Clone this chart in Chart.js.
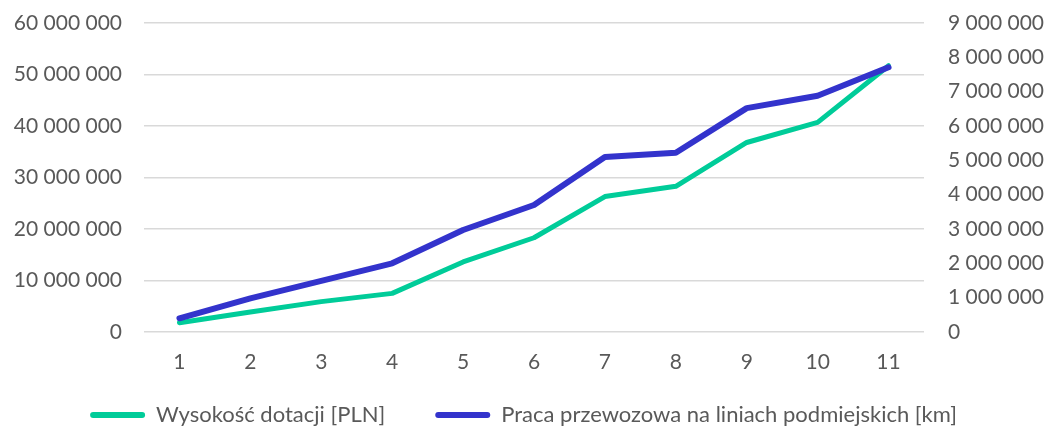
<!DOCTYPE html>
<html>
<head>
<meta charset="utf-8">
<script src="https://cdn.jsdelivr.net/npm/chart.js@4"></script>
<style>
  html, body { margin: 0; padding: 0; background: #fff; }
  #wrap { width: 1047px; height: 427px; }
</style>
</head>
<body>
<div id="wrap"><canvas id="chart" width="1047" height="427"></canvas></div>
<script>
// data
const labels = ['1', '2', '3', '4', '5', '6', '7', '8', '9', '10', '11'];
const dotacje = [1800000, 3900000, 5900000, 7500000, 13600000, 18300000, 26300000, 28300000, 36800000, 40700000, 51700000];
const praca = [400000, 980000, 1490000, 2000000, 2970000, 3700000, 5100000, 5220000, 6520000, 6880000, 7710000];

const green = '#00cc99';
const blue = '#3333cc';
const textColor = '#595959';

// 60000000 -> "60 000 000"
function fmtNum(v) {
  return String(v).replace(/\B(?=(\d{3})+(?!\d))/g, ' ');
}

// y axes: fixed widths, no extra top/bottom padding from tick labels
function fixWidth(w) {
  return s => {
    s.width = w;
    s.paddingTop = 0;
    s.paddingBottom = 0;
  };
}

const ctx = document.getElementById('chart').getContext('2d');
const chart = new Chart(ctx, {
  type: 'line',
  data: {
    labels: labels,
    datasets: [
      {
        label: 'Wysokość dotacji [PLN]',
        data: dotacje,
        yAxisID: 'y',
        borderColor: green,
        backgroundColor: green,
        borderWidth: 5,
        pointRadius: 0,
        tension: 0,
        borderCapStyle: 'round',
        borderJoinStyle: 'round',
        order: 1
      },
      {
        label: 'Praca przewozowa na liniach podmiejskich [km]',
        data: praca,
        yAxisID: 'y2',
        borderColor: blue,
        backgroundColor: blue,
        borderWidth: 6,
        pointRadius: 0,
        tension: 0,
        borderCapStyle: 'round',
        borderJoinStyle: 'round',
        order: 0
      }
    ]
  },
  options: {
    responsive: false,
    animation: false,
    layout: { padding: { top: 23, left: 0, right: 0, bottom: 0 } },
    scales: {
      x: {
        offset: true,
        grid: { display: false, drawTicks: false },
        border: { display: false },
        ticks: { color: textColor, padding: 18, font: { family: 'Lato', size: 21 } },
        afterFit: s => { s.height = 44; }
      },
      y: {
        position: 'left',
        min: 0,
        max: 60000000,
        grid: { color: '#d9d9d9', lineWidth: 1.5, drawTicks: false },
        border: { display: false },
        ticks: {
          stepSize: 10000000,
          color: textColor,
          padding: 22,
          font: { family: 'Lato', size: 21 },
          callback: v => fmtNum(v)
        },
        afterFit: fixWidth(144)
      },
      y2: {
        position: 'right',
        min: 0,
        max: 9000000,
        grid: { display: false, drawTicks: false },
        border: { display: false },
        ticks: {
          stepSize: 1000000,
          color: textColor,
          padding: 24,
          font: { family: 'Lato', size: 21 },
          callback: v => fmtNum(v)
        },
        afterFit: fixWidth(123)
      }
    },
    plugins: {
      tooltip: { enabled: false },
      legend: {
        position: 'bottom',
        maxHeight: 51,
        labels: {
          color: textColor,
          boxWidth: 55,
          boxHeight: 6,
          useBorderRadius: true,
          borderRadius: 3,
          padding: 28,
          font: { family: 'Lato', size: 22 },
          sort: (a, b) => a.datasetIndex - b.datasetIndex,
          generateLabels: c => {
            const items = Chart.defaults.plugins.legend.labels.generateLabels(c);
            items.forEach(it => {
              it.lineWidth = 0; // plain bar, no thick outline
              // wider gap after the first entry, like the original
              if (it.datasetIndex === 0) it.text += '\u2002\u2002';
            });
            return items;
          }
        }
      }
    }
  }
});
</script>
</body>
</html>
